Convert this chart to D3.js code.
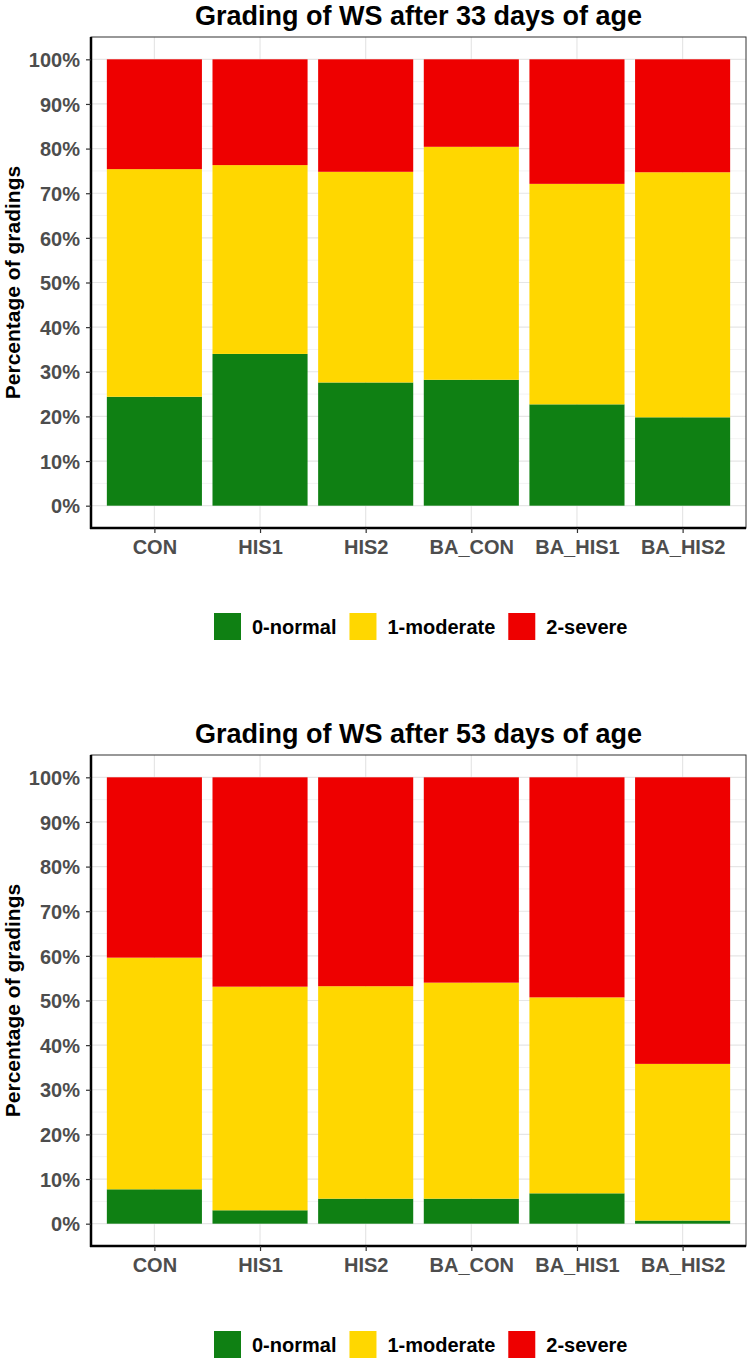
<!DOCTYPE html>
<html>
<head>
<meta charset="utf-8">
<script src="https://cdn.jsdelivr.net/npm/d3@7"></script>
<style>
  body { margin: 0; background: #fff; }
  svg { display: block; font-family: "Liberation Sans", Arial, sans-serif; }
</style>
</head>
<body>
<svg width="750" height="1362"></svg>
<script>
// categories and grade names
var groups = ["CON", "HIS1", "HIS2", "BA_CON", "BA_HIS1", "BA_HIS2"];
var grades = ["0-normal", "1-moderate", "2-severe"];
var gradeColors = ["#0f8013", "#ffd700", "#ee0000"];
var yTicks = [0, 0.1, 0.2, 0.3, 0.4, 0.5, 0.6, 0.7, 0.8, 0.9, 1];

// percentages per group, day 33
var normal33   = [24.4, 34.0, 27.6, 28.2, 22.7, 19.8];
var moderate33 = [51.0, 42.3, 47.2, 52.2, 49.4, 54.9];
var severe33   = [24.6, 23.7, 25.2, 19.6, 27.9, 25.3];

// day 53
var normal53   = [7.7, 3.0, 5.6, 5.6, 6.8, 0.7];
var moderate53 = [51.9, 50.1, 47.6, 48.4, 43.9, 35.1];
var severe53   = [40.4, 46.9, 46.8, 46.0, 49.3, 64.2];

var svg = d3.select("svg");

// panel box
var left = 91, right = 746, panelH = 491;

function buildRows(n, m, s) {
    return groups.map(function(g, i) {
        return { group: g, "0-normal": n[i] / 100, "1-moderate": m[i] / 100, "2-severe": s[i] / 100 };
    });
}

function drawPanel(top, title, rows) {
    var g = svg.append("g");
    var bottom = top + panelH;

    // ggplot style expansion: 0.6 units on discrete, 5% on continuous
    var x = d3.scalePoint().domain(groups).range([left, right]).padding(0.6);
    var step = x.step();
    var y = d3.scaleLinear().domain([-0.05, 1.05]).range([bottom, top]);

    // grid
    var minor = d3.range(0.05, 1.0, 0.1);
    g.selectAll(".minor").data(minor).enter().append("line")
        .attr("x1", left).attr("x2", right)
        .attr("y1", function(d) { return y(d); }).attr("y2", function(d) { return y(d); })
        .style("stroke", "#f3f3f3").style("stroke-width", 1);
    g.selectAll(".major").data(yTicks).enter().append("line")
        .attr("x1", left).attr("x2", right)
        .attr("y1", function(d) { return y(d); }).attr("y2", function(d) { return y(d); })
        .style("stroke", "#e6e6e6").style("stroke-width", 1.2);
    g.selectAll(".vgrid").data(groups).enter().append("line")
        .attr("y1", top).attr("y2", bottom)
        .attr("x1", function(d) { return x(d); }).attr("x2", function(d) { return x(d); })
        .style("stroke", "#e6e6e6").style("stroke-width", 1.2);

    // stacked bars
    var stack = d3.stack().keys(grades)(rows);
    var bw = step * 0.9;
    g.selectAll(".layer").data(stack).enter().append("g")
        .style("fill", function(d, i) { return gradeColors[i]; })
      .selectAll("rect").data(function(d) { return d; }).enter().append("rect")
        .attr("x", function(d) { return x(d.data.group) - bw / 2; })
        .attr("width", bw)
        .attr("y", function(d) { return y(d[1]); })
        .attr("height", function(d) { return y(d[0]) - y(d[1]); });

    // border: thin top/right, heavy axis lines left/bottom
    g.append("rect").attr("x", left).attr("y", top)
        .attr("width", right - left).attr("height", panelH)
        .style("fill", "none").style("stroke", "#333").style("stroke-width", 1);
    g.append("line").attr("x1", left).attr("x2", left).attr("y1", top).attr("y2", bottom + 1)
        .style("stroke", "#000").style("stroke-width", 2.5);
    g.append("line").attr("x1", left - 1).attr("x2", right).attr("y1", bottom).attr("y2", bottom)
        .style("stroke", "#000").style("stroke-width", 2.5);

    // y axis
    var yAxis = d3.axisLeft(y).tickValues(yTicks).tickSize(5).tickPadding(6)
        .tickFormat(d3.format(".0%"));
    var ya = g.append("g").attr("transform", "translate(" + left + ",0)").call(yAxis);
    ya.select(".domain").remove();
    ya.selectAll(".tick line").style("stroke", "#333").style("stroke-width", 1.2);
    ya.selectAll(".tick text").style("font-size", "20px").style("font-weight", "bold")
        .style("fill", "#4d4d4d").attr("dy", "0.36em");

    // x axis
    var xAxis = d3.axisBottom(x).tickSize(5).tickPadding(5);
    var xa = g.append("g").attr("transform", "translate(0," + bottom + ")").call(xAxis);
    xa.select(".domain").remove();
    xa.selectAll(".tick line").style("stroke", "#333").style("stroke-width", 1.2);
    xa.selectAll(".tick text").style("font-size", "20px").style("font-weight", "bold")
        .style("fill", "#4d4d4d").attr("y", 0).attr("dy", 26);

    // titles
    g.append("text").attr("x", (left + right) / 2).attr("y", top - 12)
        .attr("text-anchor", "middle").style("font-size", "27px").style("font-weight", "bold")
        .text(title);
    g.append("text").attr("transform", "translate(20," + (top + panelH / 2) + ") rotate(-90)")
        .attr("text-anchor", "middle").style("font-size", "21px").style("font-weight", "bold")
        .text("Percentage of gradings");

    // legend
    var lg = g.append("g").attr("transform", "translate(0," + (bottom + 85) + ")");
    var lx = 214;
    grades.forEach(function(k, i) {
        lg.append("rect").attr("x", lx).attr("y", 0).attr("width", 27).attr("height", 27)
            .style("fill", gradeColors[i]);
        var t = lg.append("text").attr("x", lx + 38).attr("y", 21)
            .style("font-size", "20px").style("font-weight", "bold").text(k);
        lx += 38 + t.node().getComputedTextLength() + 13;
    });
}

drawPanel(37, "Grading of WS after 33 days of age", buildRows(normal33, moderate33, severe33));
drawPanel(755, "Grading of WS after 53 days of age", buildRows(normal53, moderate53, severe53));
</script>
</body>
</html>
